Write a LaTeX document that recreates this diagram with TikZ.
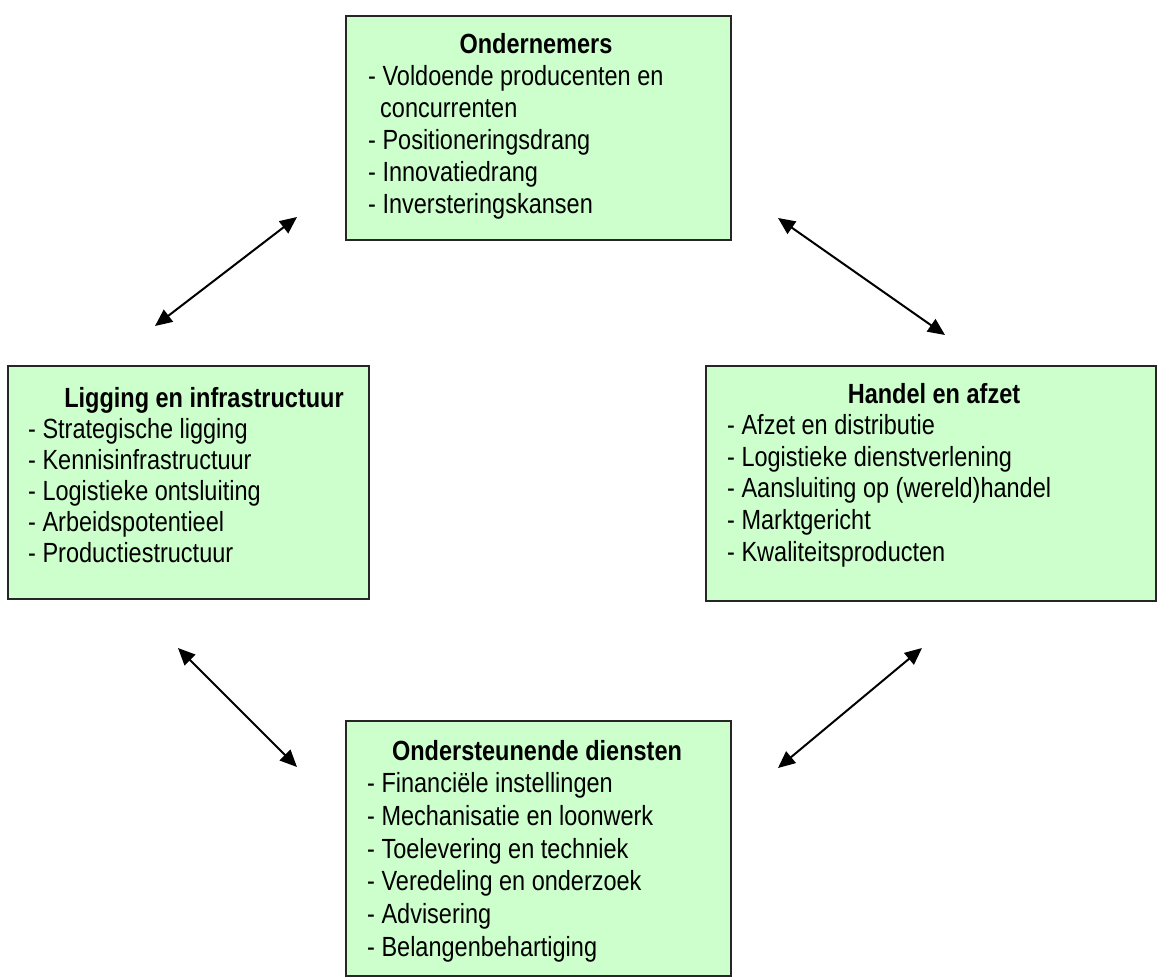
\documentclass[tikz,border=0pt]{standalone}
\usepackage{fontspec}
\usepackage{graphicx}
\setmainfont{Liberation Sans}
\usetikzlibrary{arrows.meta}
\definecolor{boxgreen}{HTML}{CCFFCC}
\newcommand{\vstretch}[1]{\scalebox{1}[1.18]{#1}}
\begin{document}
\begin{tikzpicture}[x=1pt,y=-1pt,
  box/.style={draw=black!85, line width=1.8pt, fill=boxgreen, anchor=north west, inner sep=0pt},
  ttl/.style={anchor=base, inner sep=0pt, font=\fontsize{23.5}{28}\selectfont\bfseries},
  itm/.style={anchor=base west, inner sep=0pt, font=\fontsize{23.5}{28}\selectfont},
  link/.style={line width=2pt, {Triangle[length=17pt,width=15pt]}-{Triangle[length=17pt,width=15pt]}}]
\useasboundingbox (0,0) rectangle (1157,978);
% boxes
\node[box, minimum width=385pt, minimum height=224pt] (ond) at (345,15) {};
\node[box, minimum width=361pt, minimum height=233pt] (lig) at (7,365) {};
\node[box, minimum width=450pt, minimum height=235pt] (han) at (705,365) {};
\node[box, minimum width=385pt, minimum height=255pt] (ost) at (345,720) {};
% top box texts
\node[ttl] (ondT) at (536,53) {\vstretch{Ondernemers}};
\node[itm] (ond1) at (368,85) {\vstretch{- Voldoende producenten en}};
\node[itm] (ond2) at (380,117) {\vstretch{concurrenten}};
\node[itm] (ond3) at (368,149) {\vstretch{- Positioneringsdrang}};
\node[itm] (ond4) at (368,181) {\vstretch{- Innovatiedrang}};
\node[itm] (ond5) at (368,213) {\vstretch{- Inversteringskansen}};
% left box texts
\node[ttl] (ligT) at (204,407) {\vstretch{Ligging en infrastructuur}};
\foreach \t [count=\i] in {Strategische ligging, Kennisinfrastructuur, Logistieke ontsluiting, Arbeidspotentieel, Productiestructuur}
  \node[itm] (lig\i) at (28,{407+\i*31}) {\vstretch{- \t}};
% right box texts
\node[ttl] (hanT) at (934,403) {\vstretch{Handel en afzet}};
\foreach \t [count=\i] in {Afzet en distributie, Logistieke dienstverlening, Aansluiting op (wereld)handel, Marktgericht, Kwaliteitsproducten}
  \node[itm] (han\i) at (727,{403+\i*31.6}) {\vstretch{- \t}};
% bottom box texts
\node[ttl] (ostT) at (537,760) {\vstretch{Ondersteunende diensten}};
\foreach \t [count=\i] in {Financiële instellingen, Mechanisatie en loonwerk, Toelevering en techniek, Veredeling en onderzoek, Advisering, Belangenbehartiging}
  \node[itm] (ost\i) at (367,{760+\i*32.7}) {\vstretch{- \t}};
% connectors
\coordinate (a1s) at (155,326); \coordinate (a1e) at (297,217);
\coordinate (a2s) at (778,218); \coordinate (a2e) at (945,335);
\coordinate (a3s) at (178,648); \coordinate (a3e) at (297,767);
\coordinate (a4s) at (778,768); \coordinate (a4e) at (922,648);
\draw[link] (a1s) -- (a1e);
\draw[link] (a2s) -- (a2e);
\draw[link] (a3s) -- (a3e);
\draw[link] (a4s) -- (a4e);
\end{tikzpicture}
\end{document}
